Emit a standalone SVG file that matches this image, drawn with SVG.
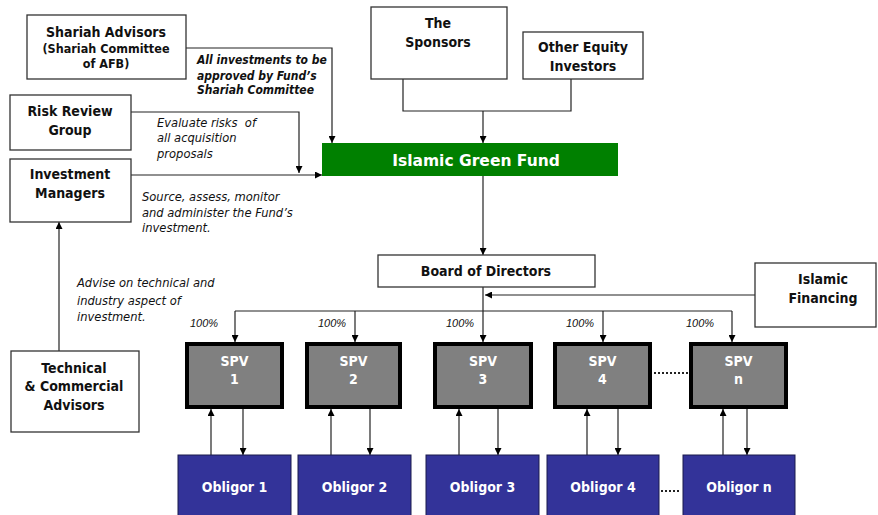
<svg xmlns="http://www.w3.org/2000/svg" width="878" height="515" viewBox="0 0 878 515">
<defs>
<marker id="ah" viewBox="0 0 10 10" refX="10" refY="5" markerWidth="7" markerHeight="7" orient="auto" markerUnits="userSpaceOnUse">
<path d="M0,0 L10,5 L0,10 z" fill="#000"/>
</marker>
<style>
.box{fill:#fff;stroke:#333;stroke-width:1.3}
.spv{fill:#808080;stroke:#000;stroke-width:4}
.obl{fill:#333399;stroke:#1a1a4d;stroke-width:1}
.t{font-family:"DejaVu Sans Condensed","Liberation Sans",Arial,sans-serif;font-weight:bold;font-size:14px;fill:#111;text-anchor:middle}
.ts{font-size:12.5px}
.w{fill:#fff}
.lbl{font-family:"DejaVu Sans Condensed","Liberation Sans",Arial,sans-serif;font-style:italic;font-size:12.8px;fill:#111;white-space:pre}
.lb{font-weight:bold;font-size:12px}
.pct{font-family:"Liberation Sans",Arial,sans-serif;font-style:italic;font-size:11px;fill:#111}
.c{fill:none;stroke:#222;stroke-width:1.2}
.ca{fill:none;stroke:#222;stroke-width:1.2;marker-end:url(#ah)}
.dot{fill:none;stroke:#222;stroke-width:2;stroke-dasharray:2 2}
</style>
</defs>
<rect width="878" height="515" fill="#fff"/>

<g id="connectors">
<path class="ca" d="M186,48 H332 V143"/>
<path class="ca" d="M131,112 H299 V173"/>
<path class="ca" d="M131,175 H322"/>
<path class="c" d="M403,79 V111 H571 V79"/>
<path class="ca" d="M483,111 V143"/>
<path class="ca" d="M483,176 V255"/>
<path class="ca" d="M483,287 V342"/>
<path class="ca" d="M755,295 H485"/>
<path class="c" d="M235,311 H732"/>
<path class="ca" d="M235,311 V342"/>
<path class="ca" d="M355,311 V342"/>
<path class="ca" d="M603,311 V342"/>
<path class="ca" d="M732,311 V342"/>
<path class="ca" d="M59,351 V222"/>
<path class="ca" d="M211,455 V409"/>
<path class="ca" d="M243,409 V455"/>
<path class="ca" d="M331,455 V409"/>
<path class="ca" d="M370,409 V455"/>
<path class="ca" d="M459,455 V409"/>
<path class="ca" d="M498,409 V455"/>
<path class="ca" d="M587,455 V409"/>
<path class="ca" d="M618,409 V455"/>
<path class="ca" d="M723,455 V409"/>
<path class="ca" d="M747,409 V455"/>
<path class="dot" d="M654,373 H688"/>
<path class="dot" d="M661,491 H680"/>
</g>

<g id="labels">
<text class="lbl lb" x="197" y="64">All investments to be</text>
<text class="lbl lb" x="197" y="80">approved by Fund’s</text>
<text class="lbl lb" x="197" y="94">Shariah Committee</text>
<text class="lbl" x="157" y="127">Evaluate risks  of</text>
<text class="lbl" x="157" y="142">all acquisition</text>
<text class="lbl" x="157" y="158">proposals</text>
<text class="lbl" x="142" y="201">Source, assess, monitor</text>
<text class="lbl" x="142" y="217">and administer the Fund’s</text>
<text class="lbl" x="142" y="232">investment.</text>
<text class="lbl" x="77" y="287">Advise on technical and</text>
<text class="lbl" x="77" y="305">industry aspect of</text>
<text class="lbl" x="77" y="321">investment.</text>
<text class="pct" x="190" y="327">100%</text>
<text class="pct" x="318" y="327">100%</text>
<text class="pct" x="446" y="327">100%</text>
<text class="pct" x="566" y="327">100%</text>
<text class="pct" x="686" y="327">100%</text>
</g>

<g id="shariah">
<rect class="box" x="27" y="15" width="159" height="64"/>
<text class="t" x="106" y="37">Shariah Advisors</text>
<text class="t ts" x="106" y="53">(Shariah Committee</text>
<text class="t ts" x="106" y="68">of AFB)</text>
</g>
<g id="risk">
<rect class="box" x="10" y="95" width="121" height="55"/>
<text class="t" x="70" y="116">Risk Review</text>
<text class="t" x="70" y="135">Group</text>
</g>
<g id="im">
<rect class="box" x="10" y="159" width="121" height="63"/>
<text class="t" x="70" y="179">Investment</text>
<text class="t" x="70" y="198">Managers</text>
</g>
<g id="sponsors">
<rect class="box" x="371" y="7" width="136" height="72"/>
<text class="t" x="438" y="28">The</text>
<text class="t" x="438" y="47">Sponsors</text>
</g>
<g id="equity">
<rect class="box" x="523" y="32" width="120" height="47"/>
<text class="t" x="583" y="52">Other Equity</text>
<text class="t" x="583" y="71">Investors</text>
</g>
<g id="fund">
<rect x="322" y="143" width="296" height="33" fill="#008000"/>
<text class="t w" x="476" y="166" style="font-family:'DejaVu Sans','Liberation Sans',sans-serif;font-size:15.5px">Islamic Green Fund</text>
</g>
<g id="board">
<rect class="box" x="378" y="255" width="217" height="32"/>
<text class="t" x="486" y="276" font-size="14.5">Board of Directors</text>
</g>
<g id="financing">
<rect class="box" x="755" y="263" width="121" height="64"/>
<text class="t" x="823" y="284">Islamic</text>
<text class="t" x="823" y="303">Financing</text>
</g>
<g id="technical">
<rect class="box" x="11" y="351" width="128" height="81"/>
<text class="t" x="74" y="373">Technical</text>
<text class="t" x="74" y="391">&amp; Commercial</text>
<text class="t" x="74" y="410">Advisors</text>
</g>

<g id="spv1"><rect class="spv" x="187" y="344" width="95" height="63"/><text class="t w" x="234.5" y="366">SPV</text><text class="t w" x="234.5" y="384">1</text></g>
<g id="spv2"><rect class="spv" x="307" y="344" width="93" height="63"/><text class="t w" x="353.5" y="366">SPV</text><text class="t w" x="353.5" y="384">2</text></g>
<g id="spv3"><rect class="spv" x="435" y="344" width="96" height="63"/><text class="t w" x="483" y="366">SPV</text><text class="t w" x="483" y="384">3</text></g>
<g id="spv4"><rect class="spv" x="555" y="344" width="95" height="63"/><text class="t w" x="602.5" y="366">SPV</text><text class="t w" x="602.5" y="384">4</text></g>
<g id="spvn"><rect class="spv" x="691" y="344" width="95" height="63"/><text class="t w" x="738.5" y="366">SPV</text><text class="t w" x="738.5" y="384">n</text></g>

<g id="ob1"><rect class="obl" x="178" y="455" width="113" height="62"/><text class="t w" x="234.5" y="492">Obligor 1</text></g>
<g id="ob2"><rect class="obl" x="298" y="455" width="113" height="62"/><text class="t w" x="354.5" y="492">Obligor 2</text></g>
<g id="ob3"><rect class="obl" x="426" y="455" width="113" height="62"/><text class="t w" x="482.5" y="492">Obligor 3</text></g>
<g id="ob4"><rect class="obl" x="547" y="455" width="112" height="62"/><text class="t w" x="603" y="492">Obligor 4</text></g>
<g id="obn"><rect class="obl" x="683" y="455" width="112" height="62"/><text class="t w" x="739" y="492">Obligor n</text></g>
</svg>
